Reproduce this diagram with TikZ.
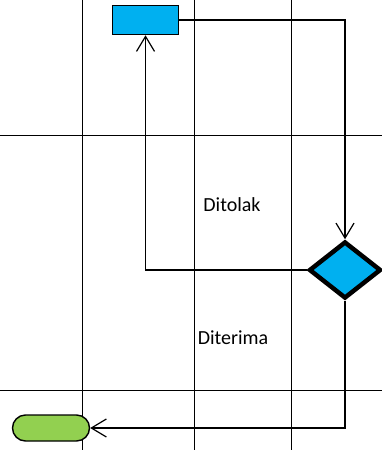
\documentclass[tikz,border=0pt]{standalone}
\usepackage{fontspec}
\setmainfont{Carlito}
\usepackage{tikz}
\usetikzlibrary{shapes.geometric, arrows.meta, positioning}
\definecolor{actcyan}{RGB}{0, 176, 240}
\definecolor{endgreen}{RGB}{146, 208, 80}

\begin{document}
\begin{tikzpicture}[
    x=1pt, y=-1pt,
    lane/.style={draw=black, line width=0.9pt},
    actbox/.style={rectangle, draw=black, fill=actcyan, line width=1.5pt, minimum width=66pt, minimum height=29pt, inner sep=0pt},
    decision/.style={diamond, draw=black, fill=actcyan, line width=4.5pt, minimum width=72pt, minimum height=57pt, inner sep=0pt},
    endbox/.style={rectangle, rounded corners=13pt, draw=black, fill=endgreen, line width=1.4pt, minimum width=77pt, minimum height=26pt, inner sep=0pt},
    flow/.style={-{Straight Barb[length=15pt, width=18pt]}, line width=1.2pt},
    lbl/.style={font=\fontsize{20}{24}\selectfont, inner sep=0pt}
  ]
  \useasboundingbox (0,0) rectangle (382,450);

  % Swimlanes
  \foreach \x in {82, 194, 291}
    \draw[lane] (\x,0) -- (\x,450);
  \foreach \y in {135, 390}
    \draw[lane] (0,\y) -- (382,\y);

  % Activity, decision, end
  \node[actbox] (act) at (145.5, 20) {};
  \node[decision] (dec) at (345, 270) {};
  \node[endbox] (fin) at (51, 428) {};

  % Labels
  \node[lbl] (tolak) at (232, 205) {Ditolak};
  \node[lbl] (terima) at (233, 338) {Diterima};

  % Connections
  \draw[flow] (act.east) -| (dec.north);
  \draw[flow] (dec.west) -| (act.south);
  \draw[flow] (dec.south) |- (fin.east);
\end{tikzpicture}
\end{document}
